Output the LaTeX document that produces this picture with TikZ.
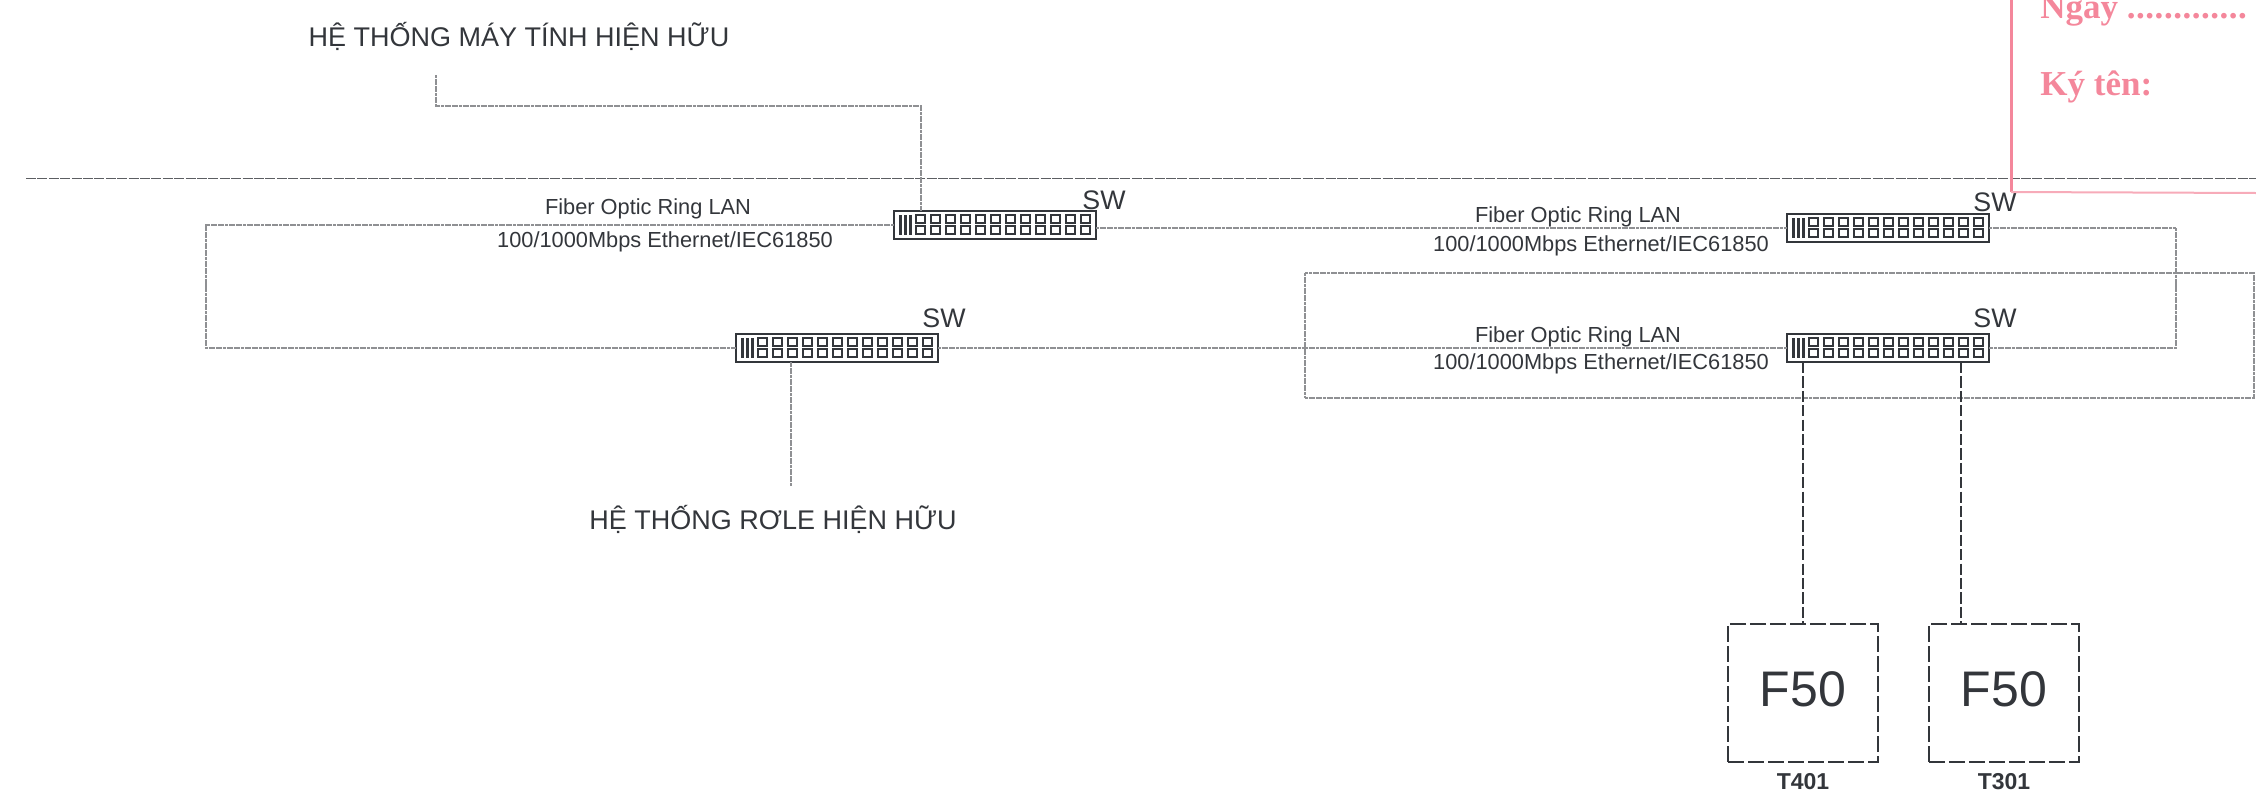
\documentclass[tikz,border=0pt]{standalone}
\usepackage{fontspec}
\usepackage{xcolor}
\usetikzlibrary{arrows.meta, positioning, calc}
\setmainfont{Liberation Sans}
\newfontfamily\stampfont{Liberation Serif}
\definecolor{ink}{HTML}{33363B}
\definecolor{stamp}{HTML}{F4879B}

\begin{document}
\begin{tikzpicture}[
  x=0.5pt, y=-0.5pt,
  switch/.style={rectangle, draw=ink, line width=0.8pt, fill=white, minimum width=101pt, minimum height=14pt, inner sep=0pt, outer sep=0pt},
  port/.style={draw=ink, line width=0.75pt},
  bar/.style={fill=ink},
  ring/.style={draw=ink!55, line width=0.55pt, dash pattern=on 1.5pt off 0.3pt},
  hair/.style={draw=ink!80, line width=0.5pt, dash pattern=on 5pt off 0.7pt},
  feeder/.style={draw=ink, line width=0.7pt, dash pattern=on 5.6pt off 1.6pt},
  relaybox/.style={rectangle, draw=ink, line width=0.7pt, dash pattern=on 8pt off 2pt, minimum width=75pt, minimum height=69pt, inner sep=0pt, outer sep=0pt, text depth=3.5pt, font=\fontsize{25}{25}\selectfont, text=ink},
  tag/.style={font=\fontsize{11.5}{12}\selectfont\bfseries, text=ink, inner sep=0pt},
  caption/.style={font=\fontsize{13.5}{14}\selectfont, text=ink, inner sep=0pt, anchor=base},
  lan/.style={font=\fontsize{10.9}{12}\selectfont, text=ink, inner sep=0pt, anchor=base},
  swlabel/.style={font=\fontsize{13.4}{14}\selectfont, text=ink, inner sep=0pt},
  stamptext/.style={font=\stampfont\fontsize{17.5}{18}\selectfont\bfseries, text=stamp, inner sep=0pt, anchor=base west}
]
  \useasboundingbox (0,0) rectangle (2256,809);
  \clip (0,0) rectangle (2256,809);

  \node[caption] (pc) at (519,46) {HỆ THỐNG MÁY TÍNH HIỆN HỮU};
  \node[caption] (relay) at (773,529) {HỆ THỐNG RƠLE HIỆN HỮU};

  \coordinate (rulestart) at (26,178);
  \coordinate (ruleend) at (2256,178);
  \draw[hair] (rulestart) -- (ruleend);

  % switches
  \node[switch] (sw1) at (995,225) {};
  \node[switch] (sw2) at (1888,228) {};
  \node[switch] (sw3) at (1888,348) {};
  \node[switch] (sw4) at (837,348) {};
  \foreach \sw in {sw1,sw2,sw3,sw4} {
    \foreach \dx in {5,10,15}
      \fill[bar] ($(\sw.north west)+(\dx,4)$) rectangle +(3,20);
    \foreach \c [evaluate=\c as \dx using int(22+15*\c)] in {0,...,11}
      \foreach \dy in {4,15}
        \draw[port] ($(\sw.north west)+(\dx,\dy)$) rectangle +(9,8);
  }
  \node[swlabel] (swlabel1) at (1104,200) {SW};
  \node[swlabel] (swlabel2) at (1995,202) {SW};
  \node[swlabel] (swlabel3) at (1995,318) {SW};
  \node[swlabel] (swlabel4) at (944,318) {SW};

  % ring
  \coordinate (ringW) at (206,285);
  \coordinate (ringE) at (2176,285);
  \draw[ring] (sw1.west) -| (ringW) |- (sw4.west);
  \draw[ring] (sw1.east |- sw2.west) -- (sw2.west);
  \draw[ring] (sw2.east) -| (ringE) |- (sw3.east);
  \draw[ring] (sw4.east) -- (sw3.west);

  \node[ring, minimum width=474.5pt, minimum height=62.5pt, inner sep=0pt] (frame) at (1779.5,335.5) {};

  \node[lan] (lan1a) at (648,214) {Fiber Optic Ring LAN};
  \node[lan] (lan1b) at (665,247) {100/1000Mbps Ethernet/IEC61850};
  \node[lan] (lan2a) at (1578,222) {Fiber Optic Ring LAN};
  \node[lan] (lan2b) at (1601,251) {100/1000Mbps Ethernet/IEC61850};
  \node[lan] (lan3a) at (1578,342) {Fiber Optic Ring LAN};
  \node[lan] (lan3b) at (1601,369) {100/1000Mbps Ethernet/IEC61850};

  % existing systems
  \coordinate (pcdrop) at (436,75);
  \coordinate (pcbend) at (921,106);
  \draw[ring] (pcdrop) |- (pcbend) -- (pcbend |- sw1.north);
  \coordinate (relaydrop) at (791,486);
  \draw[ring] (relaydrop) -- (relaydrop |- sw4.south);

  % feeders
  \node[relaybox] (f1) at (1803,693) {F50};
  \node[relaybox] (f2) at (2004,693) {F50};
  \node[tag, below=5.5pt of f1] (t401) {T401};
  \node[tag, below=5.5pt of f2] (t301) {T301};
  \coordinate (port1) at (1803,362);
  \coordinate (port2) at (1961,362);
  \draw[feeder] (port1) -- (f1.north);
  \draw[feeder] (port2) -- (port2 |- f2.north);

  % stamp
  \coordinate (stamptop) at (2011,0);
  \coordinate (stampcorner) at (2011,192);
  \coordinate (stampend) at (2256,193);
  \draw[stamp, line width=1.5pt] (stamptop) -- (stampcorner);
  \draw[stamp!70, line width=1pt] (stampcorner) -- (stampend);
  \node[stamptext] (day) at (2040,18) {Ngày \addfontfeature{LetterSpace=1.5}.............};
  \node[stamptext] (sign) at (2040,95) {Ký tên:};
\end{tikzpicture}
\end{document}
